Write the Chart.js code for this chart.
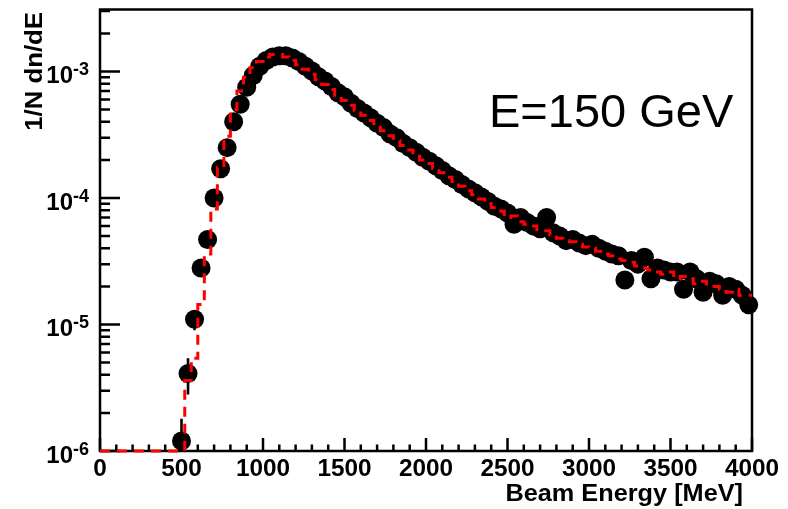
<!DOCTYPE html>
<html><head><meta charset="utf-8">
<script src="https://cdn.jsdelivr.net/npm/chart.js@4/dist/chart.umd.min.js"></script>
<style>html,body{margin:0;padding:0;background:#fff;}#wrap{width:788px;height:509px;}</style>
</head><body><div id="wrap"><canvas id="c" width="788" height="509"></canvas></div>
<script>
// ---- data ----
const binCenters = [
  500,540,580,620,660,700,740,780,820,860,
  900,940,980,1020,1060,1100,1140,1180,1220,1260,
  1300,1340,1380,1420,1460,1500,1540,1580,1620,1660,
  1700,1740,1780,1820,1860,1900,1940,1980,2020,2060,
  2100,2140,2180,2220,2260,2300,2340,2380,2420,2460,
  2500,2540,2580,2620,2660,2700,2740,2780,2820,2860,
  2900,2940,2980,3020,3060,3100,3140,3180,3220,3260,
  3300,3340,3380,3420,3460,3500,3540,3580,3620,3660,
  3700,3740,3780,3820,3860,3900,3940,3980
];
const dataValues = [
  1.2e-6,4.1e-6,1.1e-5,2.8e-5,4.7e-5,1.0e-4,1.7e-4,2.5e-4,4.0e-4,5.5e-4,
  7.5e-4,9.3e-4,1.1e-3,1.22e-3,1.3e-3,1.33e-3,1.33e-3,1.28e-3,1.2e-3,1.1e-3,
  1.01e-3,9.1e-4,8.4e-4,7.6e-4,6.8e-4,6.3e-4,5.6e-4,5.1e-4,4.7e-4,4.3e-4,
  3.9e-4,3.6e-4,3.2e-4,3.0e-4,2.7e-4,2.5e-4,2.3e-4,2.1e-4,1.95e-4,1.8e-4,
  1.65e-4,1.5e-4,1.4e-4,1.28e-4,1.18e-4,1.1e-4,1.02e-4,9.4e-5,8.6e-5,8.2e-5,
  7.6e-5,6.2e-5,7.0e-5,6.4e-5,6.0e-5,5.7e-5,7.0e-5,5.3e-5,5.0e-5,4.6e-5,
  4.7e-5,4.4e-5,4.2e-5,4.3e-5,4.0e-5,3.8e-5,3.6e-5,3.5e-5,2.25e-5,3.2e-5,
  3.0e-5,3.4e-5,2.3e-5,2.8e-5,2.7e-5,2.6e-5,2.6e-5,1.9e-5,2.6e-5,2.3e-5,
  1.8e-5,2.2e-5,2.1e-5,1.7e-5,2.0e-5,1.9e-5,1.7e-5,1.43e-5
];
// statistical errors of the first points (the others are hidden by the markers)
const dataErrors = [6e-7,1.3e-6,2e-6,3e-6,4e-6];

const histEdges = [
  0,40,80,120,160,200,240,280,320,360,
  400,440,480,520,560,600,640,680,720,760,
  800,840,880,920,960,1000,1040,1080,1120,1160,
  1200,1240,1280,1320,1360,1400,1440,1480,1520,1560,
  1600,1640,1680,1720,1760,1800,1840,1880,1920,1960,
  2000,2040,2080,2120,2160,2200,2240,2280,2320,2360,
  2400,2440,2480,2520,2560,2600,2640,2680,2720,2760,
  2800,2840,2880,2920,2960,3000,3040,3080,3120,3160,
  3200,3240,3280,3320,3360,3400,3440,3480,3520,3560,
  3600,3640,3680,3720,3760,3800,3840,3880,3920,3960,
  4000
];
const histValues = [
  0,0,0,0,0,0,0,0,0,0,
  0,0,0,0,3.6e-6,5.4e-6,1.44e-5,3.6e-5,8.2e-5,1.74e-4,
  3.07e-4,5.0e-4,7.0e-4,9.0e-4,1.07e-3,1.2e-3,1.3e-3,1.36e-3,1.36e-3,1.3e-3,
  1.22e-3,1.13e-3,1.04e-3,9.5e-4,8.6e-4,7.9e-4,7.2e-4,6.5e-4,5.9e-4,5.4e-4,
  4.9e-4,4.5e-4,4.1e-4,3.75e-4,3.4e-4,3.1e-4,2.85e-4,2.6e-4,2.4e-4,2.2e-4,
  2.0e-4,1.87e-4,1.72e-4,1.58e-4,1.46e-4,1.35e-4,1.24e-4,1.14e-4,1.06e-4,9.8e-5,
  9.0e-5,8.4e-5,7.9e-5,7.0e-5,7.2e-5,6.5e-5,6.2e-5,6.0e-5,5.6e-5,5.5e-5,
  5.1e-5,4.8e-5,4.6e-5,4.5e-5,4.3e-5,4.1e-5,4.0e-5,3.8e-5,3.6e-5,3.5e-5,
  3.3e-5,3.2e-5,3.1e-5,2.9e-5,2.8e-5,2.7e-5,2.6e-5,2.5e-5,2.6e-5,2.3e-5,
  2.4e-5,2.3e-5,2.1e-5,2.2e-5,2.0e-5,2.0e-5,1.9e-5,1.8e-5,1.9e-5,1.7e-5
];

const xTickValues = [0,500,1000,1500,2000,2500,3000,3500,4000];
const xTickLabels = ['0','500','1000','1500','2000','2500','3000','3500','4000'];
const yDecadeExps = [-6,-5,-4,-3];
const yMin = 1e-6, yMax = 3.09e-3;
const xTitle = 'Beam Energy [MeV]';
const yTitle = '1/N dn/dE';
const plotLabel = 'E=150 GeV';

// ---- drawing helpers ----
const BOLD = '"Liberation Sans", Arial, Helvetica, sans-serif';

const axesPlugin = {
  id: 'rootAxes',
  beforeDatasetsDraw(chart) {
    const {ctx, chartArea: a, scales: {x, y}} = chart;
    ctx.save();
    ctx.strokeStyle = '#000';
    ctx.lineWidth = 2.5;
    ctx.lineCap = 'butt';
    ctx.strokeRect(a.left, a.top, a.right - a.left, a.bottom - a.top);
    // x ticks (inward, upward)
    ctx.beginPath();
    for (let i = 0; i < xTickValues.length; i++) {
      const px = x.getPixelForValue(xTickValues[i]);
      ctx.moveTo(px, a.bottom); ctx.lineTo(px, a.bottom - 13);
      if (i < xTickValues.length - 1) {
        const step = (xTickValues[i + 1] - xTickValues[i]) / 5;
        for (let k = 1; k < 5; k++) {
          const pm = x.getPixelForValue(xTickValues[i] + k * step);
          ctx.moveTo(pm, a.bottom); ctx.lineTo(pm, a.bottom - 6.5);
        }
      }
    }
    // y ticks (inward, to the right)
    for (const e of yDecadeExps) {
      const base = Math.pow(10, e);
      const py = y.getPixelForValue(base);
      ctx.moveTo(a.left, py); ctx.lineTo(a.left + 20, py);
      for (let m = 2; m <= 9; m++) {
        const v = m * base;
        if (v > yMax) break;
        const pm = y.getPixelForValue(v);
        ctx.moveTo(a.left, pm); ctx.lineTo(a.left + 10, pm);
      }
    }
    ctx.stroke();

    // error bars
    ctx.save();
    ctx.beginPath();
    ctx.rect(a.left, a.top, a.right - a.left, a.bottom - a.top);
    ctx.clip();
    ctx.lineWidth = 2.6;
    ctx.beginPath();
    for (let i = 0; i < dataErrors.length; i++) {
      const v = dataValues[i], e = dataErrors[i];
      const px = x.getPixelForValue(binCenters[i]);
      const lo = v - e > yMin ? y.getPixelForValue(v - e) : a.bottom + 5;
      const hi = y.getPixelForValue(v + e);
      ctx.moveTo(px, lo); ctx.lineTo(px, hi);
    }
    ctx.stroke();
    ctx.restore();

    ctx.fillStyle = '#000';
    // x tick labels
    ctx.font = 'bold 23px ' + BOLD;
    ctx.textAlign = 'center';
    ctx.textBaseline = 'alphabetic';
    for (let i = 0; i < xTickValues.length; i++) {
      const px = x.getPixelForValue(xTickValues[i]);
      ctx.save();
      ctx.translate(px, a.bottom + 24.5);
      ctx.scale(1.06, 1);
      ctx.fillText(xTickLabels[i], 0, 0);
      ctx.restore();
    }
    // y tick labels 10^e
    for (const e of yDecadeExps) {
      const py = y.getPixelForValue(Math.pow(10, e));
      ctx.font = 'bold 24px ' + BOLD;
      ctx.textAlign = 'right';
      ctx.fillText('10', a.left - 27, py + 12);
      ctx.font = 'bold 18px ' + BOLD;
      ctx.textAlign = 'left';
      ctx.fillText(String(e), a.left - 27, py + 4);
    }
    // axis titles
    ctx.font = 'bold 23px ' + BOLD;
    ctx.save();
    ctx.translate(a.right - 9, a.bottom + 50);
    ctx.scale(1.1, 1);
    ctx.textAlign = 'right';
    ctx.fillText(xTitle, 0, 0);
    ctx.restore();
    ctx.save();
    ctx.translate(a.left - 58.5, a.top + 2.5);
    ctx.rotate(-Math.PI / 2);
    ctx.scale(1.12, 1);
    ctx.textAlign = 'right';
    ctx.fillText(yTitle, 0, 0);
    ctx.restore();
    // label
    ctx.font = '47px ' + BOLD;
    ctx.textAlign = 'left';
    ctx.fillText(plotLabel, 489, 126.7);
    ctx.restore();
  }
};

const histPoints = histEdges.map((e, i) => {
  const v = i < histValues.length ? histValues[i] : histValues[histValues.length - 1];
  return {x: e, y: v > 0 ? v : yMin};
});
const dataPoints = binCenters.map((c, i) => ({x: c, y: dataValues[i]}));

new Chart(document.getElementById('c'), {
  type: 'scatter',
  data: {
    datasets: [
      {
        type: 'line', label: 'simulation', data: histPoints,
        stepped: 'after', borderColor: '#ff0000', borderWidth: 3,
        borderDash: [10, 7], pointRadius: 0, fill: false, clip: false, order: 0
      },
      {
        label: 'data', data: dataPoints, pointRadius: 9.5,
        backgroundColor: '#000', borderColor: '#000', borderWidth: 0,
        clip: false, order: 1
      }
    ]
  },
  options: {
    responsive: false, animation: false, devicePixelRatio: 1,
    layout: {padding: {left: 100, top: 6, right: 36, bottom: 58}},
    plugins: {legend: {display: false}, tooltip: {enabled: false}},
    scales: {
      x: {type: 'linear', min: 0, max: 4000, display: false},
      y: {type: 'logarithmic', min: yMin, max: yMax, display: false}
    }
  },
  plugins: [axesPlugin]
});
</script>
</body></html>
